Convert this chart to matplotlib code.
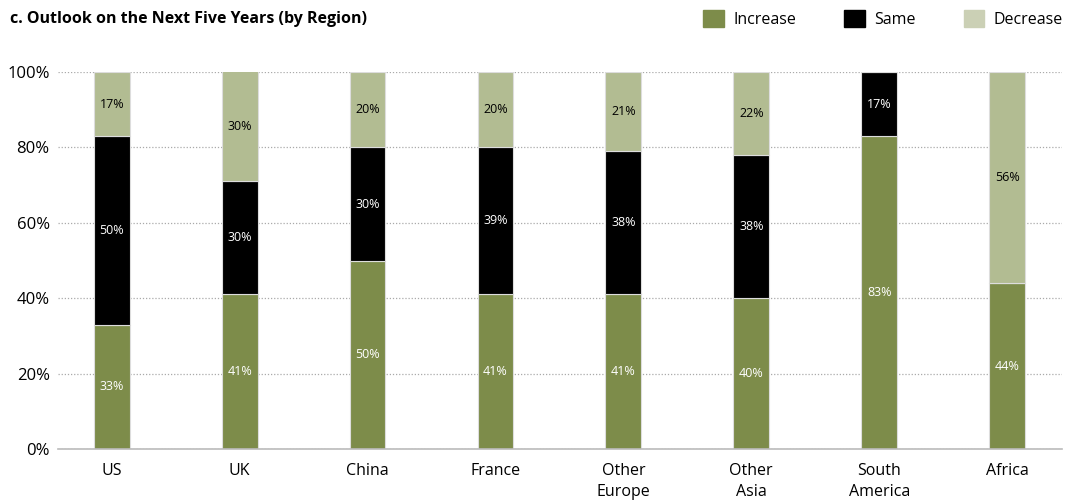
import matplotlib
matplotlib.use("Agg")
import matplotlib.pyplot as plt
from matplotlib.patches import Patch
import numpy as np

plt.rcParams['font.family'] = ['Open Sans', 'DejaVu Sans']

# data (percent)
regions = ['US', 'UK', 'China', 'France', 'Other\nEurope', 'Other\nAsia', 'South\nAmerica', 'Africa']
increase = [33, 41, 50, 41, 41, 40, 83, 44]
same = [50, 30, 30, 39, 38, 38, 17, 0]
decrease = [17, 30, 20, 20, 21, 22, 0, 56]

c_inc = '#7d8c4a'
c_same = '#000000'
c_dec = '#b2bc92'

fig = plt.figure(figsize=(10.75, 5.01), dpi=100)
ax = fig.add_axes([0.054, 0.104, 0.934, 0.752])

x = np.arange(len(regions))
w = 0.28
inc = np.array(increase)
sm = np.array(same)
dec = np.array(decrease)

ax.bar(x, inc, w, color=c_inc, edgecolor='#dddddd', linewidth=0.8, zorder=3)
ax.bar(x, sm, w, bottom=inc, color=c_same, edgecolor='#dddddd', linewidth=0.8, zorder=3)
ax.bar(x, dec, w, bottom=inc + sm, color=c_dec, edgecolor='#dddddd', linewidth=0.8, zorder=3)

# segment labels
for i in range(len(regions)):
    segs = [(inc[i], 0, 'white'), (sm[i], inc[i], 'white'), (dec[i], inc[i] + sm[i], 'black')]
    for val, base, col in segs:
        if val <= 0:
            continue
        mid = min(base + val / 2, (base + 100) / 2)
        ax.text(x[i], mid, f'{val}%', ha='center', va='center', color=col,
                fontsize=9, zorder=4)

ax.set_ylim(0, 100)
ax.set_xlim(-0.42, 7.43)
ax.set_yticks([0, 20, 40, 60, 80, 100])
ax.set_yticklabels([f'{v}%' for v in [0, 20, 40, 60, 80, 100]], fontsize=12)
ax.set_xticks(x)
ax.set_xticklabels(regions, fontsize=11.5, linespacing=1.4, va='top')
ax.tick_params(axis='both', length=0, pad=6)
ax.tick_params(axis='x', pad=10)

ax.yaxis.grid(True, linestyle=(0, (1, 1.5)), color='#aaaaaa', linewidth=0.9, zorder=0)
for s in ['top', 'right', 'left']:
    ax.spines[s].set_visible(False)
ax.spines['bottom'].set_color('#bbbbbb')
ax.spines['bottom'].set_linewidth(1.2)
ax.spines['bottom'].set_zorder(5)

fig.text(0.009, 0.963, 'c. Outlook on the Next Five Years (by Region)', fontsize=11.5,
         fontweight='bold', va='center', ha='left')

handles = [Patch(color=c_inc, label='Increase'),
           Patch(color=c_same, label='Same'),
           Patch(color='#cbd0b5', label='Decrease')]
fig.legend(handles=handles, loc='center right', bbox_to_anchor=(0.995, 0.963), ncol=3,
           frameon=False, fontsize=11.5, handlelength=1.3, handleheight=1.3,
           handletextpad=0.6, columnspacing=3.0, borderaxespad=0)

fig.savefig('out.png', dpi=100)
